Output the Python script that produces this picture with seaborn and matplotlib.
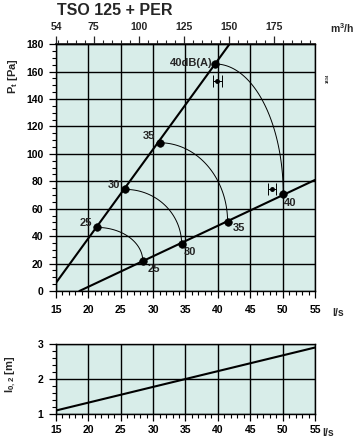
import numpy as np
import pandas as pd
import matplotlib
matplotlib.use("Agg")
from matplotlib import pyplot as plt
from matplotlib.ticker import MultipleLocator, FixedLocator
import seaborn as sns

# system lines (l/s, Pa)
upper_line_x = [15.0, 41.8]
upper_line_y = [6.0, 180.0]
lower_line_x = [18.6, 55.0]
lower_line_y = [0.0, 81.0]

# sound level points, dB(A)
db_levels = ["25", "30", "35", "40"]
upper_x = [21.3, 25.7, 31.0, 39.6]
upper_y = [46.4, 74.1, 108.1, 165.5]
lower_x = [28.4, 34.4, 41.5, 50.1]
lower_y = [21.9, 34.3, 50.5, 70.5]

# tolerance markers
tol_x = [39.9, 48.4]
tol_y = [153.3, 74.4]
tol_dx = [0.7, 0.65]

# throw length l0,2 (m)
throw_x = [15.0, 55.0]
throw_y = [1.1, 2.9]

x_ticks = [15, 20, 25, 30, 35, 40, 45, 50, 55]
m3h_ticks = [54, 75, 100, 125, 150, 175]

sns.set_theme(style="ticks")
plt.rcParams["font.family"] = ["Liberation Sans", "DejaVu Sans"]
plt.rcParams["font.weight"] = "bold"
plt.rcParams["mathtext.fontset"] = "custom"
plt.rcParams["mathtext.rm"] = "Liberation Sans:bold"
plt.rcParams["mathtext.bf"] = "Liberation Sans:bold"
plt.rcParams["mathtext.it"] = "Liberation Sans:bold"

bg = "#d8ede9"
fig = plt.figure(figsize=(3.58, 4.41), dpi=100)
ax = fig.add_axes([0.1564, 0.340, 0.7235, 0.560])
ax2 = fig.add_axes([0.1564, 0.0612, 0.7235, 0.1587])

for a in (ax, ax2):
    a.set_facecolor(bg)
    for s in a.spines.values():
        s.set_color("black")
        s.set_linewidth(1.0)
    a.set_xlim(15, 55)
    a.xaxis.set_major_locator(FixedLocator(x_ticks))
    a.xaxis.set_minor_locator(MultipleLocator(1))
    a.grid(True, which="major", color="black", linewidth=1.0)
    a.set_axisbelow(True)
    a.tick_params(which="major", length=5, width=0.9, color="black", labelsize=7.5, labelcolor="black")
    a.tick_params(which="minor", length=3, width=0.8, color="black")
    a.set_xlabel("")
    a.set_ylabel("")

ax.set_ylim(0, 180)
ax.yaxis.set_major_locator(MultipleLocator(20))
ax.yaxis.set_minor_locator(MultipleLocator(5))
ax.tick_params(axis="x", which="major", pad=5)
ax.tick_params(axis="y", which="major", pad=4)

# system lines
sns.lineplot(x=upper_line_x, y=upper_line_y, ax=ax, color="black", linewidth=1.5, sort=False, estimator=None)
sns.lineplot(x=lower_line_x, y=lower_line_y, ax=ax, color="black", linewidth=1.5, sort=False, estimator=None)

# arcs joining equal sound levels
t = np.linspace(0, np.pi / 2, 80)
for ux, uy, lx, ly in zip(upper_x, upper_y, lower_x, lower_y):
    ax.plot(ux + (lx - ux) * np.sin(t), ly + (uy - ly) * np.cos(t), color="black", linewidth=0.7)

pts = pd.DataFrame({"x": upper_x + lower_x, "y": upper_y + lower_y})
sns.scatterplot(data=pts, x="x", y="y", ax=ax, color="black", s=30, marker="o", edgecolor="black", zorder=5)
ax.set_xlabel("")
ax.set_ylabel("")

up_off = [(-3, 3), (-3.5, 3), (-3, 5), (-2, 0.5)]
for i, lab in enumerate(db_levels):
    txt = lab + ("dB(A)" if lab == "40" else "")
    ax.annotate(txt, (upper_x[i], upper_y[i]), xytext=up_off[i], textcoords="offset points",
                ha="right", va="center", fontsize=8, fontweight="bold")
lo_off = [(3.5, -6), (1.5, -6), (3.5, -4.5), (0.5, -6.5)]
for i, lab in enumerate(db_levels):
    ax.annotate(lab, (lower_x[i], lower_y[i]), xytext=lo_off[i], textcoords="offset points",
                ha="left", va="center", fontsize=8, fontweight="bold")

ax.errorbar(tol_x, tol_y, xerr=tol_dx, fmt="o", color="black", markersize=2.5,
            elinewidth=0.7, capsize=4, capthick=0.7, zorder=6)

# top m3/h axis
top = ax.secondary_xaxis("top", functions=(lambda q: q * 3.6, lambda q: q / 3.6))
top.xaxis.set_major_locator(FixedLocator(m3h_ticks))
top.xaxis.set_minor_locator(MultipleLocator(5))
top.tick_params(which="major", length=6, width=0.9, labelsize=7.5, pad=3)
top.tick_params(which="minor", length=3, width=0.8)

ax2.set_ylim(1, 3)
ax2.yaxis.set_major_locator(MultipleLocator(1))
ax2.yaxis.set_minor_locator(MultipleLocator(0.2))
ax2.tick_params(axis="x", which="major", pad=3)
ax2.tick_params(axis="y", which="major", pad=4)
sns.lineplot(x=throw_x, y=throw_y, ax=ax2, color="black", linewidth=1.5, sort=False, estimator=None)
ax2.set_xlabel("")
ax2.set_ylabel("")

fig.text(57 / 358, 1 - 15 / 441, "TSO 125 + PER", fontsize=11.5, fontweight="bold", va="baseline", ha="left")
fig.text(330 / 358, 1 - 28 / 441, "m$^3$/h", fontsize=7.5, fontweight="bold", va="center", ha="left")
fig.text(332 / 358, 1 - 313 / 441, "l/s", fontsize=7.5, fontweight="bold", va="center", ha="left")
fig.text(322 / 358, 1 - 433 / 441, "l/s", fontsize=7.5, fontweight="bold", va="center", ha="left")
fig.text(13 / 358, 1 - 76 / 441, "P$_t$ [Pa]", fontsize=8, fontweight="bold", rotation=90, va="center", ha="center")
fig.text(11 / 358, 1 - 374 / 441, "l$_{0,2}$ [m]", fontsize=8, fontweight="bold", rotation=90, va="center", ha="center")
fig.text(328 / 358, 1 - 78 / 441, "3434", fontsize=3, rotation=90, va="center", ha="center")

fig.savefig("out.png", dpi=100)
